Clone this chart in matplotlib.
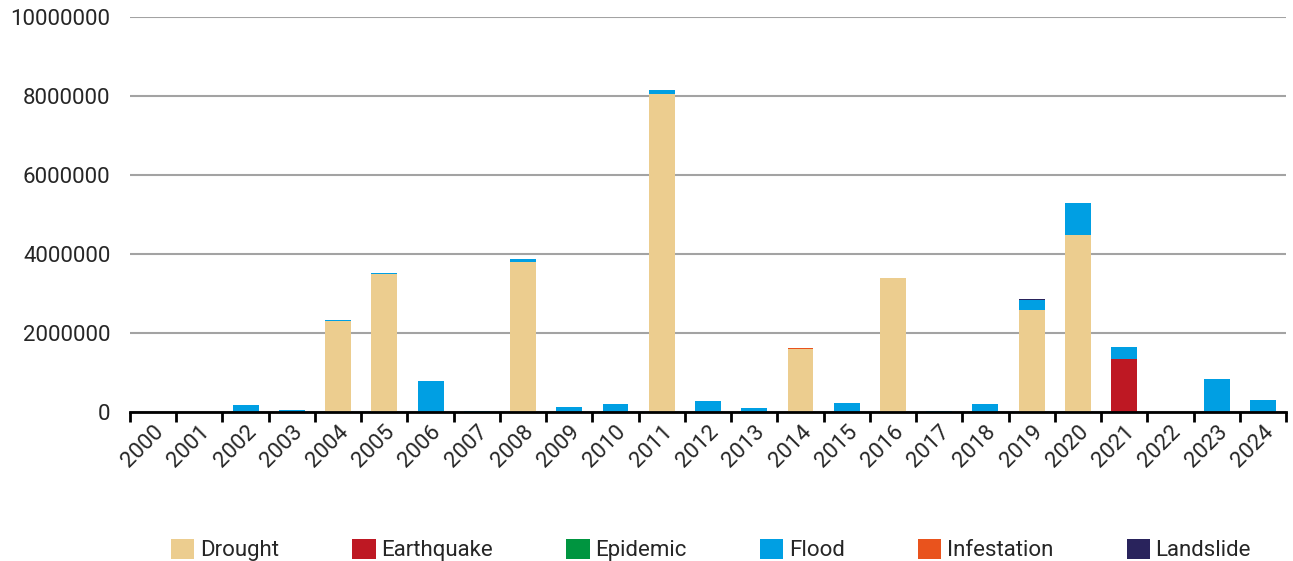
import numpy as np
import matplotlib
matplotlib.use("Agg")
import matplotlib.pyplot as plt

plt.rcParams["font.family"] = ["Roboto", "DejaVu Sans"]

# data (people affected per year, by disaster type)
years = [str(y) for y in range(2000, 2025)]

drought = [0, 0, 0, 0, 2300000, 3490000, 0, 0, 3800000, 0, 0, 8040000, 0, 0,
           1590000, 0, 3390000, 0, 0, 2580000, 4480000, 0, 0, 0, 0]
earthquake = [0] * 21 + [1330000, 0, 0, 0]
epidemic = [0] * 25
flood = [0, 0, 170000, 50000, 20000, 40000, 790000, 30000, 65000, 130000,
         200000, 100000, 280000, 100000, 0, 230000, 10000, 25000, 200000,
         260000, 810000, 310000, 0, 840000, 300000]
infestation = [0] * 14 + [20000] + [0] * 10
landslide = [0] * 19 + [10000] + [0] * 5

series = [
    ("Drought", drought, "#ECCD8F"),
    ("Earthquake", earthquake, "#BE1823"),
    ("Epidemic", epidemic, "#009540"),
    ("Flood", flood, "#009FE3"),
    ("Infestation", infestation, "#E9531D"),
    ("Landslide", landslide, "#29235C"),
]

txt = "#262626"

fig = plt.figure(figsize=(12.93, 5.61), dpi=100)
ax = fig.add_axes([130 / 1293, 1 - 412 / 561, 1156 / 1293, 395 / 561])

x = np.arange(len(years))
bottom = np.zeros(len(years))
handles = []
for name, vals, col in series:
    vals = np.array(vals, dtype=float)
    b = ax.bar(x, vals, width=0.56, bottom=bottom, color=col, label=name, zorder=3)
    handles.append(b)
    bottom += vals

ax.set_xlim(-0.5, len(years) - 0.5)
ax.set_ylim(0, 10000000)
ax.set_yticks(np.arange(0, 10000001, 2000000))
ax.set_yticklabels([str(v) for v in range(0, 10000001, 2000000)])
ax.yaxis.grid(True, color="#a3a3a3", linewidth=1.5, zorder=0)
ax.tick_params(axis="y", length=0, pad=14, labelsize=16, labelcolor=txt)

ax.set_xticks(x)
ax.set_xticklabels(years, rotation=45, ha="right", va="top",
                   rotation_mode="anchor", fontsize=16, color=txt)
ax.tick_params(axis="x", which="major", length=0, pad=7)
ax.set_xticks(np.arange(-0.5, len(years)), minor=True)
ax.tick_params(axis="x", which="minor", length=7, width=2, color="black")

for s in ["left", "right", "top"]:
    ax.spines[s].set_visible(False)
ax.spines["bottom"].set_linewidth(2)
ax.spines["bottom"].set_zorder(4)

fig.legend(handles=handles, loc="center", bbox_to_anchor=(711 / 1293, 1 - 550 / 561),
           ncol=6, frameon=False, handlelength=1.05, handleheight=1.05,
           handletextpad=0.25, columnspacing=3.3,
           prop={"family": ["Roboto", "DejaVu Sans"], "size": 16},
           labelcolor=txt)

fig.savefig("out.png", dpi=100)
